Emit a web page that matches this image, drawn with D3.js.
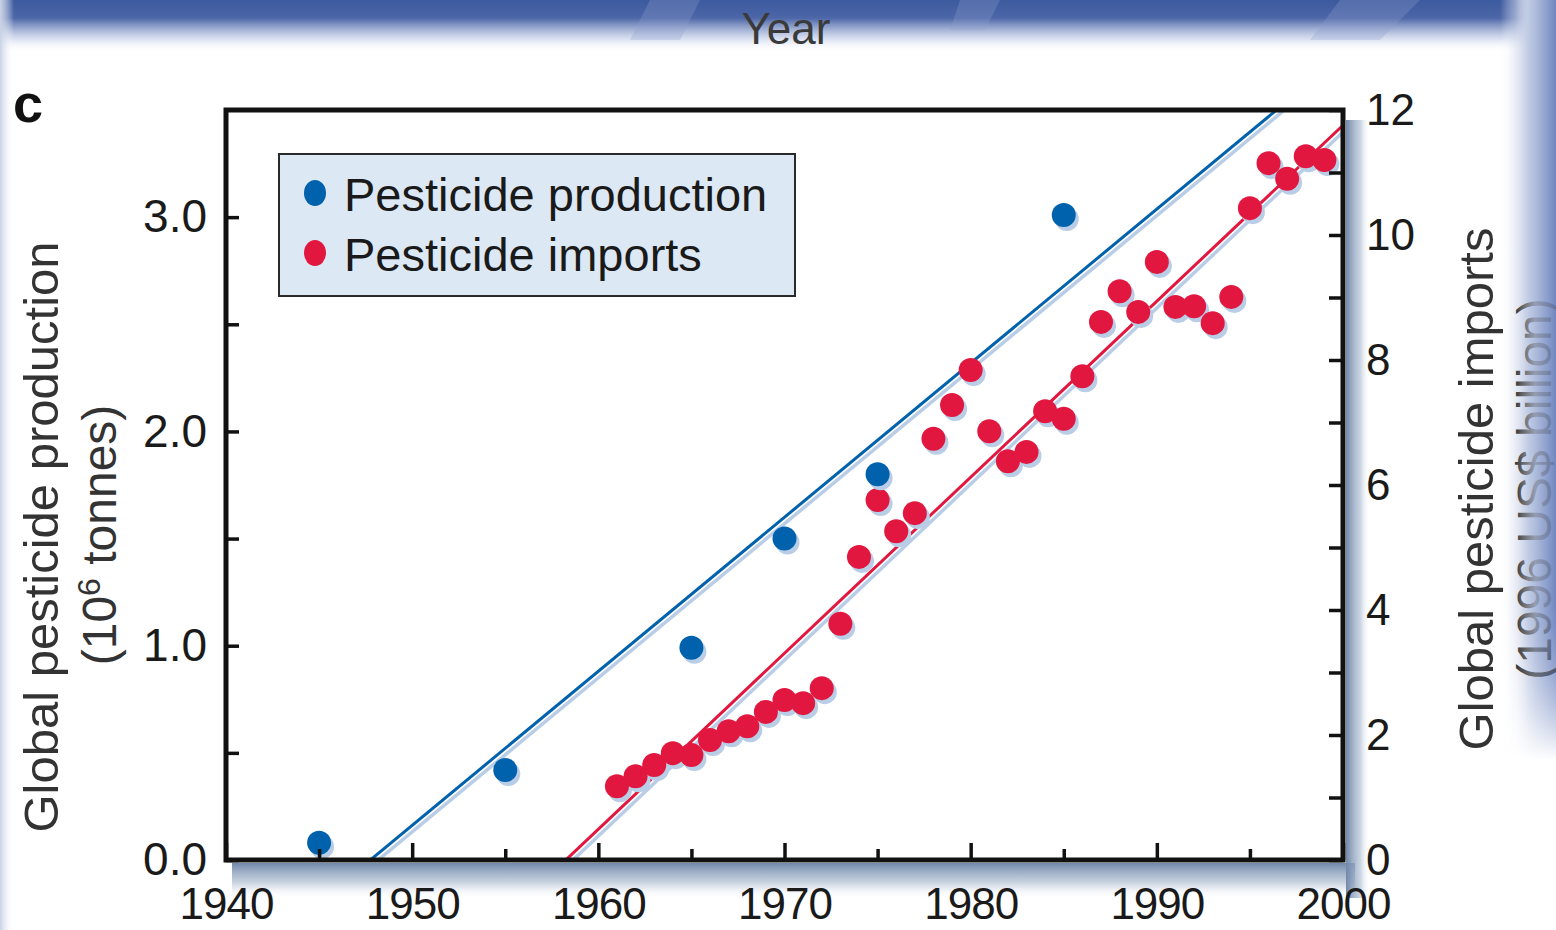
<!DOCTYPE html>
<html>
<head>
<meta charset="utf-8">
<script src="https://cdn.jsdelivr.net/npm/d3@7"></script>
<style>
    body { margin: 0; background: #ffffff; }
    svg { display: block; font-family: "Liberation Sans", Arial, sans-serif; }
</style>
</head>
<body>
<div class="pestChart"></div>
<script>

//production data (10^6 tonnes, left axis):
var prodYears = [1945, 1955, 1965, 1970, 1975, 1985];
var prodValues = [0.08, 0.42, 0.99, 1.50, 1.80, 3.01];

//imports data (1996 US$ billion, right axis):
var importYears = [1961, 1962, 1963, 1964, 1965, 1966, 1967, 1968, 1969, 1970,
    1971, 1972, 1973, 1974, 1975, 1976, 1977, 1978, 1979, 1980,
    1981, 1982, 1983, 1984, 1985, 1986, 1987, 1988, 1989, 1990,
    1991, 1992, 1993, 1994, 1995, 1996, 1997, 1998, 1999];
var importValues = [1.18, 1.34, 1.52, 1.71, 1.68, 1.92, 2.06, 2.14, 2.37, 2.56,
    2.51, 2.75, 3.78, 4.85, 5.76, 5.26, 5.55, 6.74, 7.28, 7.84,
    6.86, 6.38, 6.53, 7.18, 7.06, 7.74, 8.61, 9.10, 8.77, 9.57,
    8.85, 8.86, 8.59, 9.01, 10.43, 11.15, 10.90, 11.26, 11.20];

//tick values:
var xMajorTicks = [1940, 1950, 1960, 1970, 1980, 1990, 2000];
var xMinorTicks = [1945, 1955, 1965, 1975, 1985, 1995];
var leftTicks = [0, 0.5, 1.0, 1.5, 2.0, 2.5, 3.0];
var rightTicks = [0, 1, 2, 3, 4, 5, 6, 7, 8, 9, 10, 11, 12];

var legendLabels = ["Pesticide production", "Pesticide imports"];

var W = 1556, H = 930;
var plot = {left: 226, right: 1343, top: 110, bottom: 860};
var blue = "#0061ad", red = "#e2173f", shade = "#b9cde6";

var svg = d3.select(".pestChart").append("svg")
    .attr("width", W)
    .attr("height", H);

var defs = svg.append("defs");

function linGrad(id, x1, y1, x2, y2, stops) {
    var g = defs.append("linearGradient").attr("id", id)
        .attr("x1", x1).attr("y1", y1).attr("x2", x2).attr("y2", y2);
    stops.forEach(function (s) {
        g.append("stop").attr("offset", s[0]).attr("stop-color", s[1]).attr("stop-opacity", s[2]);
    });
}

linGrad("topBand", 0, 0, 0, 1, [[0, "#3c5a9e", 1], [0.35, "#4d67a8", 1], [0.75, "#c9d3ea", 0.7], [1, "#ffffff", 0]]);
linGrad("rightBand", 0, 0, 1, 0, [[0, "#ffffff", 0], [0.5, "#b3c0de", 1], [1, "#7288c0", 1]]);
linGrad("leftBand", 0, 0, 1, 0, [[0, "#c9d2e6", 1], [1, "#ffffff", 0]]);
linGrad("bottomShadow", 0, 0, 0, 1, [[0, "#7088aa", 1], [0.55, "#b3c1d4", 0.7], [1, "#ffffff", 0]]);
linGrad("rightShadow", 0, 0, 1, 0, [[0, "#7088aa", 1], [0.6, "#a9b9cf", 0.6], [1, "#ffffff", 0]]);
linGrad("fadeDown", 0, 0, 0, 1, [[0, "#ffffff", 1], [0.8, "#ffffff", 1], [1, "#ffffff", 0]]);

//mask so the right band fades out toward the bottom
defs.append("mask").attr("id", "rightFade")
    .append("rect").attr("x", 1480).attr("y", 0).attr("width", 76).attr("height", 760)
    .attr("fill", "url(#fadeDown)");

//background decoration (slide frame):
svg.append("rect").attr("x", 0).attr("y", 0).attr("width", W).attr("height", 52)
    .attr("fill", "url(#topBand)");
svg.append("rect").attr("x", 0).attr("y", 0).attr("width", 14).attr("height", H)
    .attr("fill", "url(#leftBand)");
svg.append("rect").attr("x", 1500).attr("y", 0).attr("width", 56).attr("height", 760)
    .attr("fill", "url(#rightBand)")
    .attr("mask", "url(#rightFade)");

//lighter wedges in the top band
var wedges = [
    [[650, 0], [700, 0], [680, 40], [630, 40]],
    [[960, 0], [1000, 0], [985, 30], [950, 30]],
    [[1340, 0], [1420, 0], [1380, 40], [1310, 40]]
];
svg.selectAll(".wedge").data(wedges).enter().append("polygon")
    .attr("class", "wedge")
    .attr("points", function (d) { return d.map(function (p) { return p.join(","); }).join(" "); })
    .attr("fill", "#8fa0cc")
    .attr("opacity", 0.3);

//scales:
var x = d3.scaleLinear().domain([1940, 2000]).range([plot.left, plot.right]);
var yL = d3.scaleLinear().domain([0, 3.5]).range([plot.bottom, plot.top]);
var yR = d3.scaleLinear().domain([0, 12]).range([plot.bottom, plot.top]);

//plot box shadow
svg.append("rect").attr("x", plot.left + 6).attr("y", plot.bottom + 3)
    .attr("width", plot.right - plot.left + 6).attr("height", 36)
    .attr("fill", "url(#bottomShadow)");
svg.append("rect").attr("x", plot.right + 3).attr("y", plot.top + 10)
    .attr("width", 24).attr("height", plot.bottom - plot.top + 28)
    .attr("fill", "url(#rightShadow)");
svg.append("rect").attr("x", plot.left).attr("y", plot.top)
    .attr("width", plot.right - plot.left).attr("height", plot.bottom - plot.top)
    .attr("fill", "#ffffff");

//"Year" label cut from panel above
svg.append("text")
    .attr("x", 786).attr("y", 44)
    .attr("text-anchor", "middle")
    .attr("font-size", 44)
    .attr("fill", "#3a3a3a")
    .text("Year");

//panel letter
svg.append("text")
    .attr("x", 13).attr("y", 122)
    .attr("font-size", 54)
    .attr("font-weight", "bold")
    .attr("fill", "#111")
    .text("c");

//clip for the regression lines
defs.append("clipPath").attr("id", "plotClip")
    .append("rect")
    .attr("x", plot.left).attr("y", plot.top)
    .attr("width", plot.right - plot.left).attr("height", plot.bottom - plot.top);

//least squares fit
function fitLine(xs, ys) {
    var mx = d3.mean(xs), my = d3.mean(ys);
    var sxy = d3.sum(xs, function (v, i) { return (v - mx) * (ys[i] - my); });
    var sxx = d3.sum(xs, function (v) { return (v - mx) * (v - mx); });
    var slope = sxy / sxx;
    return function (v) { return my + slope * (v - mx); };
}

var prodFit = fitLine(prodYears, prodValues);
var importFit = fitLine(importYears, importValues);
var fitYears = [1940, 2000];

var lines = [
    {fit: prodFit, y: yL, color: blue},
    {fit: importFit, y: yR, color: red}
];

var gLines = svg.append("g").attr("clip-path", "url(#plotClip)");

lines.forEach(function (l) {
    var gen = d3.line()
        .x(function (d) { return x(d); })
        .y(function (d) { return l.y(l.fit(d)); });
    //shadow
    gLines.append("path")
        .attr("d", gen(fitYears))
        .attr("transform", "translate(3,4)")
        .attr("fill", "none")
        .attr("stroke", shade)
        .attr("stroke-width", 3.5);
    gLines.append("path")
        .attr("d", gen(fitYears))
        .attr("fill", "none")
        .attr("stroke", l.color)
        .attr("stroke-width", 3);
});

//points
var prodPts = prodYears.map(function (d, i) { return {x: d, v: prodValues[i]}; });
var importPts = importYears.map(function (d, i) { return {x: d, v: importValues[i]}; });

function drawDots(pts, yScale, color, cls) {
    var g = svg.append("g").attr("class", cls);
    g.selectAll(".shadow").data(pts).enter().append("circle")
        .attr("class", "shadow")
        .attr("cx", function (d) { return x(d.x) + 3; })
        .attr("cy", function (d) { return yScale(d.v) + 4; })
        .attr("r", 12)
        .attr("fill", shade);
    g.selectAll(".dot").data(pts).enter().append("circle")
        .attr("class", "dot")
        .attr("cx", function (d) { return x(d.x); })
        .attr("cy", function (d) { return yScale(d.v); })
        .attr("r", 12)
        .attr("fill", color);
}

drawDots(importPts, yR, red, "importDots");
drawDots(prodPts, yL, blue, "prodDots");

//axes:
var axisFont = 46;

var xMinor = svg.append("g")
    .attr("transform", "translate(0," + plot.bottom + ")")
    .call(d3.axisBottom(x).tickValues(xMinorTicks).tickSize(-11).tickFormat(""));

var xMajor = svg.append("g")
    .attr("transform", "translate(0," + plot.bottom + ")")
    .call(d3.axisBottom(x).tickValues(xMajorTicks).tickSize(-17).tickPadding(28)
        .tickFormat(function (d) { return d; }));

var yLeft = svg.append("g")
    .attr("transform", "translate(" + plot.left + ",0)")
    .call(d3.axisLeft(yL).tickValues(leftTicks).tickSize(-13).tickPadding(19)
        .tickFormat(function (d) { return d % 1 === 0 ? d3.format(".1f")(d) : ""; }));

var yRight = svg.append("g")
    .attr("transform", "translate(" + plot.right + ",0)")
    .call(d3.axisRight(yR).tickValues(rightTicks).tickSize(-14).tickPadding(23)
        .tickFormat(function (d) { return d % 2 === 0 ? d : ""; }));

[xMinor, xMajor, yLeft, yRight].forEach(function (a) {
    a.select(".domain").remove();
    a.selectAll(".tick line").attr("stroke", "#111").attr("stroke-width", 3.5);
    a.selectAll(".tick text")
        .attr("font-size", axisFont)
        .attr("fill", "#1a1a1a")
        .attr("font-family", "'Liberation Sans', Arial, sans-serif");
});
xMajor.selectAll(".tick text").attr("font-size", 44).attr("letter-spacing", -1);
yRight.selectAll(".tick text").attr("font-size", 44);

//frame
svg.append("rect")
    .attr("x", plot.left).attr("y", plot.top)
    .attr("width", plot.right - plot.left).attr("height", plot.bottom - plot.top)
    .attr("fill", "none")
    .attr("stroke", "#111")
    .attr("stroke-width", 5);

//axis titles:
svg.append("text")
    .attr("transform", "translate(58,537) rotate(-90)")
    .attr("text-anchor", "middle")
    .attr("font-size", 49)
    .attr("fill", "#333")
    .text("Global pesticide production");

var unitL = svg.append("text")
    .attr("transform", "translate(116,535) rotate(-90)")
    .attr("text-anchor", "middle")
    .attr("font-size", 48)
    .attr("fill", "#333");
unitL.append("tspan").text("(10");
unitL.append("tspan").attr("font-size", 32).attr("dy", -16).text("6");
unitL.append("tspan").attr("dy", 16).text(" tonnes)");

svg.append("text")
    .attr("transform", "translate(1493,489) rotate(-90)")
    .attr("text-anchor", "middle")
    .attr("font-size", 49)
    .attr("fill", "#333")
    .text("Global pesticide imports");

svg.append("text")
    .attr("transform", "translate(1551,489) rotate(-90)")
    .attr("text-anchor", "middle")
    .attr("font-size", 48)
    .attr("fill", "#333")
    .text("(1996 US$ billion)");

//right edge overlay fades the cut-off label
svg.append("rect").attr("x", 1515).attr("y", 0).attr("width", 41).attr("height", 760)
    .attr("fill", "url(#rightBand)").attr("opacity", 0.75)
    .attr("mask", "url(#rightFade)");

//legend
var legend = svg.append("g").attr("class", "legend");
legend.append("rect")
    .attr("x", 279).attr("y", 154)
    .attr("width", 516).attr("height", 142)
    .attr("fill", "#dce8f3")
    .attr("stroke", "#2a2a2a")
    .attr("stroke-width", 2);

var legendColors = [blue, red];
var item = legend.selectAll(".item").data(legendLabels).enter().append("g")
    .attr("class", "item")
    .attr("transform", function (d, i) { return "translate(0," + (i * 60) + ")"; });
item.append("ellipse")
    .attr("cx", 315).attr("cy", 193)
    .attr("rx", 11).attr("ry", 13)
    .attr("fill", function (d, i) { return legendColors[i]; });
item.append("text")
    .attr("x", 344).attr("y", 211)
    .attr("font-size", 47)
    .attr("fill", "#1a1a1a")
    .text(function (d) { return d; });

</script>
</body>
</html>
